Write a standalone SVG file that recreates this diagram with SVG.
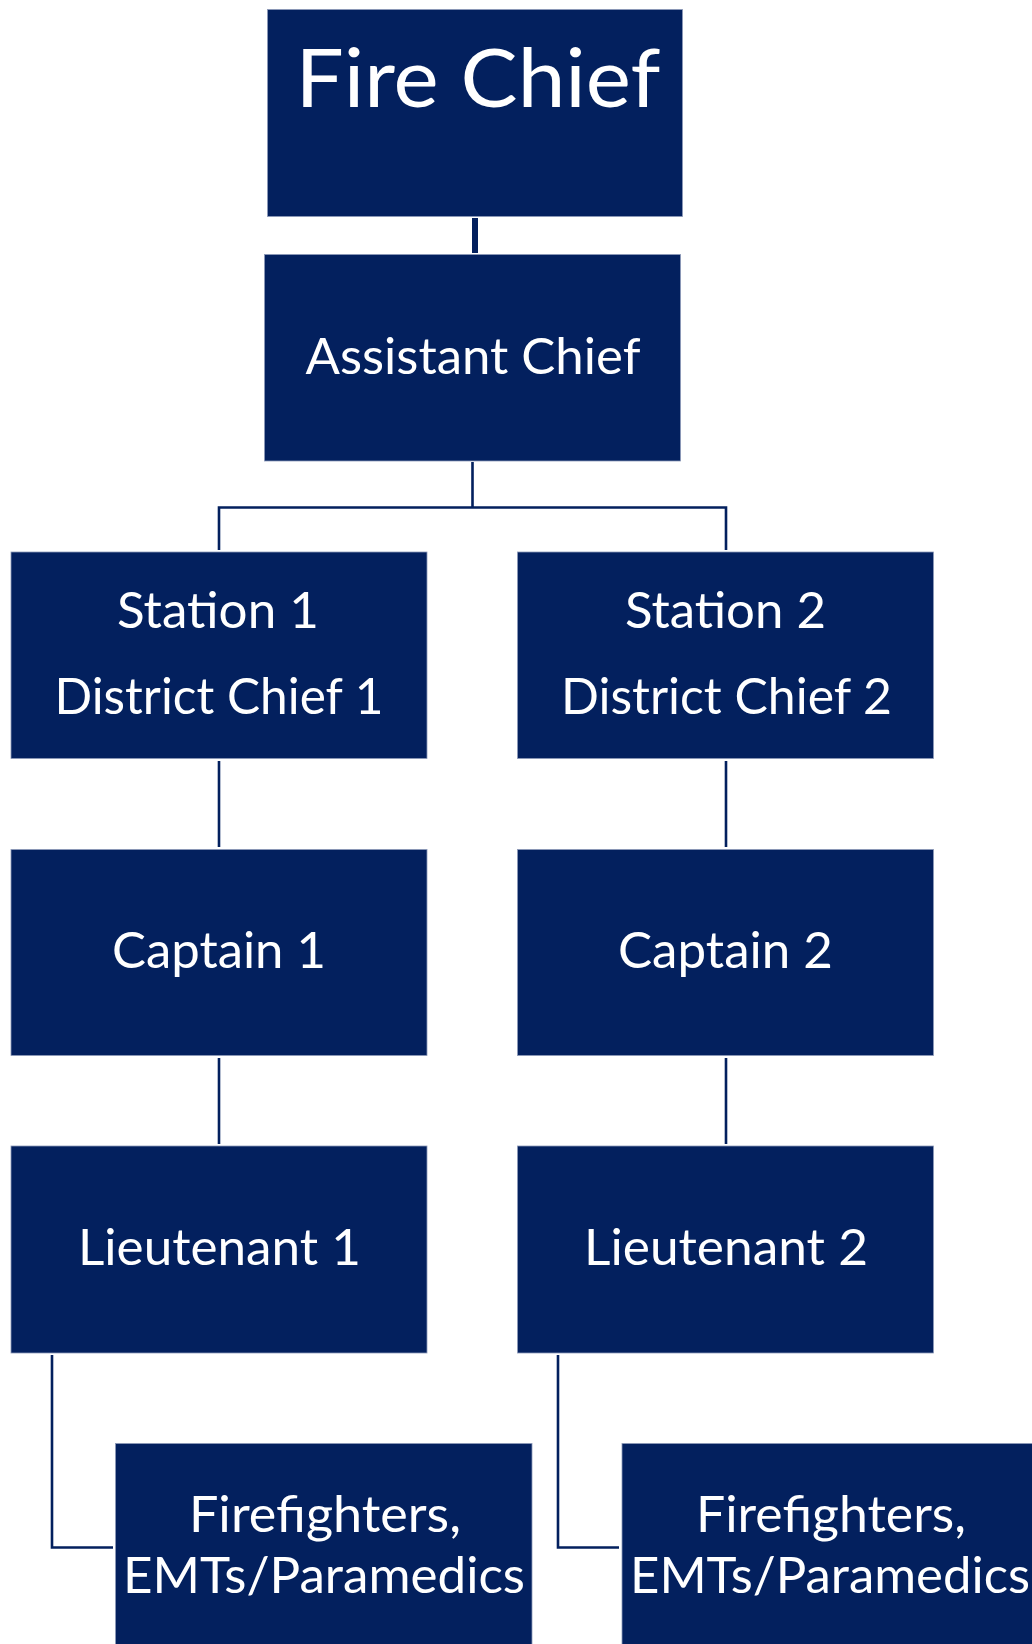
<svg xmlns="http://www.w3.org/2000/svg" width="1032" height="1644" viewBox="0 0 1032 1644">
<style>
.box{fill:#03205E;stroke:#8d99b8;stroke-width:0.8}
.lbl{fill:#ffffff;font-family:Lato,"Open Sans","Liberation Sans",sans-serif;font-size:50px;text-anchor:middle}
.big{font-size:82px}
.con{fill:none;stroke:#03205E;stroke-width:2.6}
</style>
<rect width="1032" height="1644" fill="#ffffff"/>
<g id="connectors">
<path class="con" d="M475 218 V253" style="stroke-width:6"/>
<path class="con" d="M472.5 462 V507.5 M219 550 V507.5 H726 V550"/>
<path class="con" d="M219 761 V847 M726 761 V847"/>
<path class="con" d="M219 1058 V1144 M726 1058 V1144"/>
<path class="con" d="M52 1355 V1547.5 H113 M558 1355 V1547.5 H619"/>
</g>
<g id="fire-chief">
<rect class="box" x="267.5" y="9.5" width="415" height="207"/>
<text class="lbl big" x="478" y="107" textLength="365" lengthAdjust="spacingAndGlyphs">Fire Chief</text>
</g>
<g id="assistant-chief">
<rect class="box" x="264.5" y="254.5" width="416" height="206.5"/>
<text class="lbl" x="473" y="374" textLength="335" lengthAdjust="spacingAndGlyphs">Assistant Chief</text>
</g>
<g id="station-1">
<rect class="box" x="11" y="552" width="416" height="206.5"/>
<text class="lbl" x="218" y="627.5" textLength="202" lengthAdjust="spacingAndGlyphs">Station 1</text>
<text class="lbl" x="219" y="714" textLength="329" lengthAdjust="spacingAndGlyphs">District Chief 1</text>
</g>
<g id="station-2">
<rect class="box" x="517.5" y="552" width="416" height="206.5"/>
<text class="lbl" x="725.5" y="627.5" textLength="201" lengthAdjust="spacingAndGlyphs">Station 2</text>
<text class="lbl" x="726.5" y="714" textLength="331" lengthAdjust="spacingAndGlyphs">District Chief 2</text>
</g>
<g id="captain-1">
<rect class="box" x="11" y="849.5" width="416" height="206"/>
<text class="lbl" x="219" y="967.5" textLength="214" lengthAdjust="spacingAndGlyphs">Captain 1</text>
</g>
<g id="captain-2">
<rect class="box" x="517.5" y="849.5" width="416" height="206"/>
<text class="lbl" x="725.5" y="967.5" textLength="215" lengthAdjust="spacingAndGlyphs">Captain 2</text>
</g>
<g id="lieutenant-1">
<rect class="box" x="11" y="1146" width="416" height="207"/>
<text class="lbl" x="219.5" y="1265" textLength="283" lengthAdjust="spacingAndGlyphs">Lieutenant 1</text>
</g>
<g id="lieutenant-2">
<rect class="box" x="517.5" y="1146" width="416" height="207"/>
<text class="lbl" x="726" y="1265" textLength="284" lengthAdjust="spacingAndGlyphs">Lieutenant 2</text>
</g>
<g id="crew-1">
<rect class="box" x="115.5" y="1443.5" width="416.5" height="210"/>
<text class="lbl" x="325" y="1531.7" textLength="272" lengthAdjust="spacingAndGlyphs">Firefighters,</text>
<text class="lbl" x="324" y="1592.5" textLength="402" lengthAdjust="spacingAndGlyphs">EMTs/Paramedics</text>
</g>
<g id="crew-2">
<rect class="box" x="622" y="1443.5" width="416.5" height="210"/>
<text class="lbl" x="831" y="1531.7" textLength="270" lengthAdjust="spacingAndGlyphs">Firefighters,</text>
<text class="lbl" x="830" y="1592.5" textLength="400" lengthAdjust="spacingAndGlyphs">EMTs/Paramedics</text>
</g>
</svg>
